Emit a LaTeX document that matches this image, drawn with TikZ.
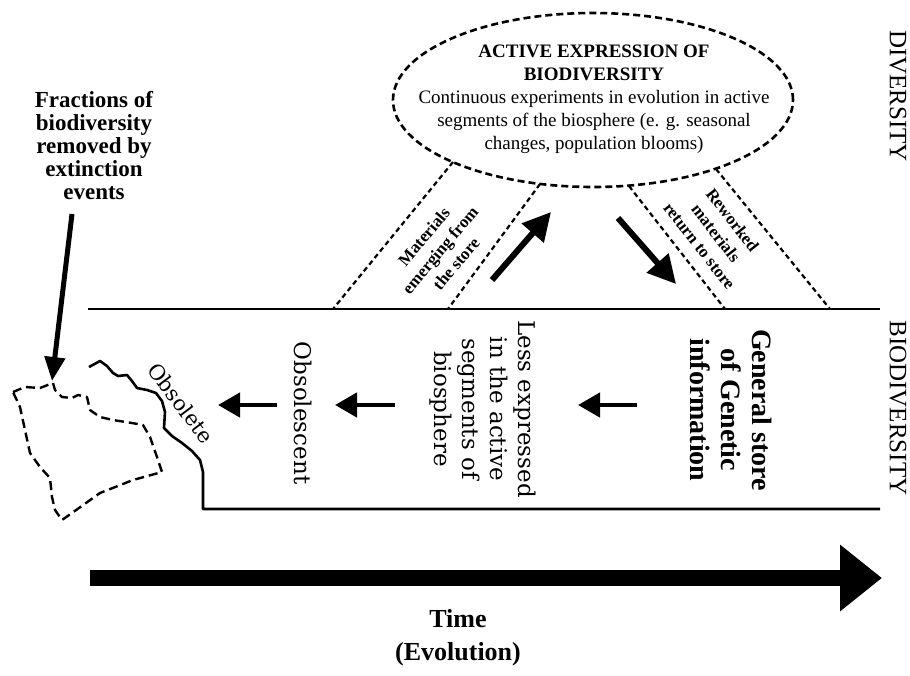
\documentclass[tikz,border=0pt]{standalone}
\usepackage{fontspec}
\setmainfont{Liberation Serif}
\newfontfamily\djs{DejaVu Serif}
\usetikzlibrary{arrows.meta,shapes.geometric}
\begin{document}
\begin{tikzpicture}[x=1pt,y=-1pt,
  solidln/.style={line width=2.6pt},
  chan/.style={line width=2.2pt,dash pattern=on 5pt off 3.5pt},
  blob/.style={line width=2.4pt,dash pattern=on 9pt off 5pt,line join=round},
  smallarr/.style={line width=4.5pt,-{Triangle[length=22pt,width=24pt]}},
  diagarr/.style={line width=6pt,-{Triangle[length=28pt,width=28pt]}},
  extarr/.style={line width=5pt,-{Triangle[length=24pt,width=20pt]}},
  timearr/.style={line width=16pt,-{Triangle[length=42pt,width=64pt]}},
  vlabel/.style={rotate=-90,font=\fontsize{25}{27}\selectfont},
  chantext/.style={align=center,font=\bfseries\fontsize{17}{21}\selectfont}
]
\useasboundingbox (0,0) rectangle (910,675);

% ellipse
\node[ellipse,draw,line width=2.6pt,dash pattern=on 7pt off 4pt,
      minimum width=400pt,minimum height=174pt,inner sep=0pt] (ell) at (593,100) {};
\node[align=center,font=\fontsize{19}{23}\selectfont] (etext) at (594,99)
 {\textbf{ACTIVE EXPRESSION OF}\\\textbf{BIODIVERSITY}\\Continuous experiments in evolution in active\\segments of the biosphere (e. g. seasonal\\changes, population blooms)};

% channel lines
\coordinate (ol1) at (453,162); \coordinate (ol2) at (333,309);
\coordinate (il1) at (540,184); \coordinate (il2) at (448,309);
\coordinate (ir1) at (629,186); \coordinate (ir2) at (725,309);
\coordinate (or1) at (716,169); \coordinate (or2) at (830,309);
\draw[chan] (ol1) -- (ol2);
\draw[chan] (il1) -- (il2);
\draw[chan] (ir1) -- (ir2);
\draw[chan] (or1) -- (or2);

\node[chantext,rotate=50] (mat) at (440,250) {Materials\\emerging from\\the store};
\node[chantext,rotate=-52] (rew) at (716,233) {Reworked\\materials\\return to store};

\coordinate (up1) at (492,280); \coordinate (up2) at (551,212);
\coordinate (dn1) at (618,218); \coordinate (dn2) at (676,284);
\draw[diagarr] (up1) -- (up2);
\draw[diagarr] (dn1) -- (dn2);

% store lines
\draw[solidln] (88,309) -- (880,309);
\draw[solidln,line join=round] (89,367) -- (100,361) -- (107,366) -- (113,373) -- (118,376) -- (127,375)
  -- (132,381) -- (137,388) -- (147,390) -- (156,393) -- (162,401) -- (165,412) -- (164,428)
  -- (172,436) -- (182,443) -- (192,451) -- (200,460) -- (203,472) -- (203,509) -- (880,509);

% extinct blob
\draw[blob] (13,392) -- (25,387) -- (40,388) -- (53,383) -- (55,390) -- (62,397) -- (72,398)
  -- (78,395) -- (87,397) -- (90,410) -- (100,417) -- (113,420) -- (132,423) -- (143,425)
  -- (150,437) -- (157,457) -- (162,472) -- (133,480) -- (100,493) -- (72,513) -- (62,520)
  -- (55,510) -- (52,497) -- (50,478) -- (40,467) -- (30,453) -- (25,430) -- (20,407) -- cycle;

\node[align=center,font=\bfseries\fontsize{23}{23}\selectfont] (frac) at (94,146)
 {Fractions of\\biodiversity\\removed by\\extinction\\events};
\coordinate (ex1) at (72,214); \coordinate (ex2) at (52,381);
\draw[extarr] (ex1) -- (ex2);

% texts in store
\node[rotate=-53,font=\djs\fontsize{21}{23}\selectfont] (obsolete) at (181,403) {Obsolete};
\node[rotate=-90,font=\djs\fontsize{23}{28}\selectfont] (obsc) at (303,413) {Obsolescent};
\node[rotate=-90,align=center,font=\djs\fontsize{23}{28}\selectfont] (less) at (483,409)
 {Less expressed\\in the active\\segments of\\biosphere};
\node[rotate=-90,align=center,font=\bfseries\fontsize{28}{31}\selectfont] (gen) at (731,410)
 {General store\\of Genetic\\information};

\coordinate (a1s) at (277,405); \coordinate (a1e) at (218,405);
\coordinate (a2s) at (395,405); \coordinate (a2e) at (335,405);
\coordinate (a3s) at (637,405); \coordinate (a3e) at (578,405);
\draw[smallarr] (a1s) -- (a1e);
\draw[smallarr] (a2s) -- (a2e);
\draw[smallarr] (a3s) -- (a3e);

% right labels
\node[vlabel] (div) at (898,96) {DIVERSITY};
\node[vlabel] (biodiv) at (898,408) {BIODIVERSITY};

% time arrow
\coordinate (t1) at (90,578); \coordinate (t2) at (882,578);
\draw[timearr] (t1) -- (t2);
\node[align=center,font=\bfseries\fontsize{26}{33}\selectfont] (time) at (458,638) {Time\\(Evolution)};
\end{tikzpicture}
\end{document}
